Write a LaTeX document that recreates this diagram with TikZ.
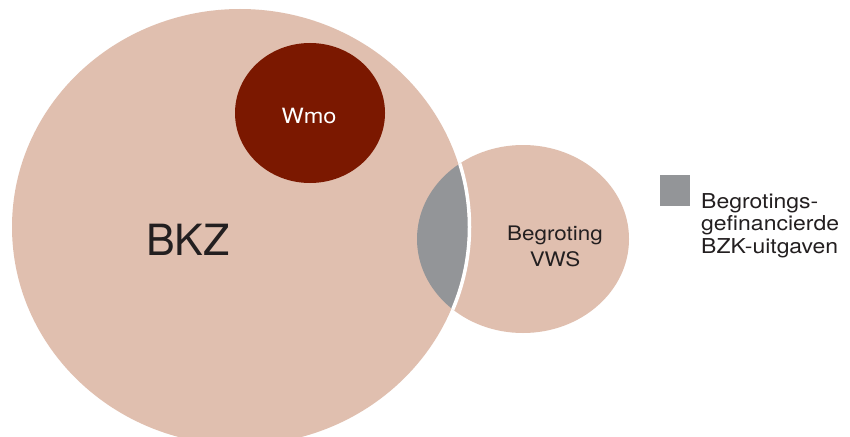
\documentclass[tikz,border=0pt]{standalone}
\usepackage{fontspec}
\setmainfont{TeX Gyre Heros}
\newfontfamily\widefont[FakeStretch=1.12]{TeX Gyre Heros}
\definecolor{pinkfill}{RGB}{224,191,175}
\definecolor{wmored}{RGB}{123,24,0}
\definecolor{grayfill}{RGB}{147,149,152}
\definecolor{txt}{RGB}{35,31,32}
\begin{document}
\begin{tikzpicture}[x=1pt,y=-1pt,
  lbl/.style={text=txt,inner sep=0pt},
]
\clip (0,0) rectangle (850,436);
\fill[white] (0,0) rectangle (850,436);
% small ellipse (Begroting VWS)
\fill[pinkfill] (523,239) ellipse [x radius=106pt, y radius=94pt];
% big ellipse (BKZ)
\fill[pinkfill] (240,227) ellipse [x radius=228pt, y radius=218pt];
% intersection
\begin{scope}
  \clip (523,239) ellipse [x radius=106pt, y radius=94pt];
  \fill[grayfill] (240,227) ellipse [x radius=228pt, y radius=218pt];
  \draw[white, line width=3.5pt] (240,227) ellipse [x radius=229.5pt, y radius=219.5pt];
\end{scope}
% Wmo
\fill[wmored] (310,113) ellipse [x radius=75pt, y radius=70pt];
% legend square
\fill[grayfill] (660,175) rectangle (690,206);
% texts
\node[lbl, anchor=base, text=white, font=\widefont\fontsize{21}{24}\selectfont] (wmo) at (309,123) {Wmo};
\node[lbl, anchor=base, font=\fontsize{43}{48}\selectfont] (bkz) at (188,255) {BKZ};
\node[lbl, anchor=base, align=center, font=\widefont\fontsize{20}{26}\selectfont] (vws) at (555,266) {Begroting\\VWS};
\node[lbl, anchor=base west, align=left, font=\widefont\fontsize{20.5}{22.5}\selectfont] (leg) at (701,253) {Begrotings-\\gefinancierde\\BZK-uitgaven};
\end{tikzpicture}
\end{document}
